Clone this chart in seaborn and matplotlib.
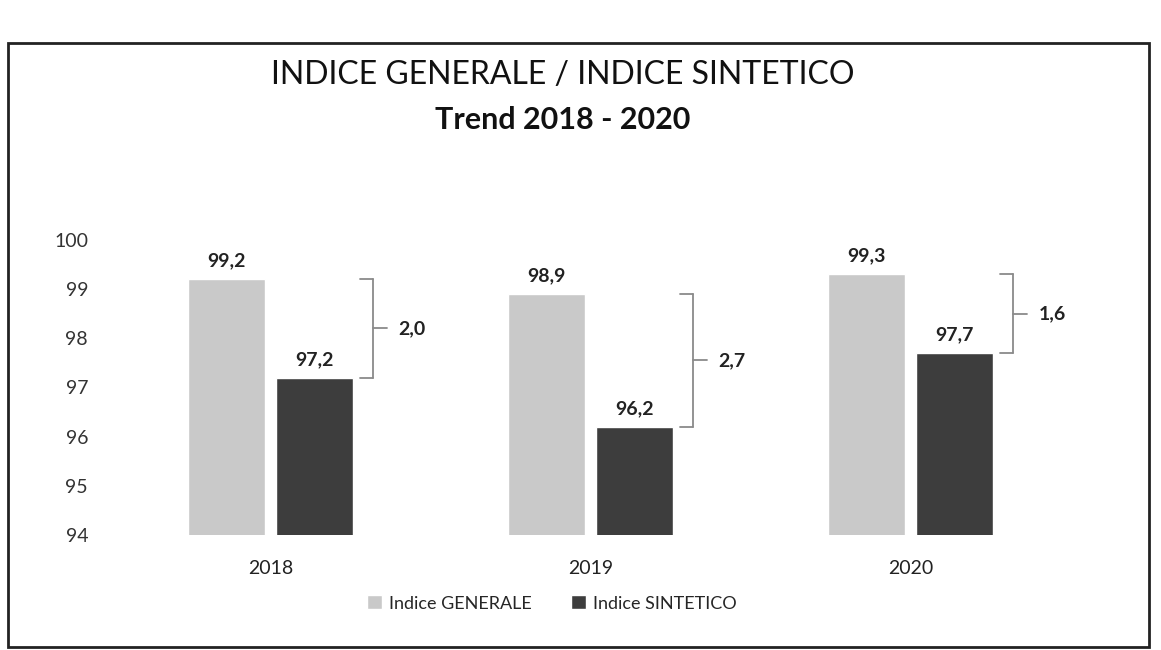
import numpy as np
import pandas as pd
import matplotlib
matplotlib.use("Agg")
import matplotlib.pyplot as plt
from matplotlib.patches import Rectangle
import seaborn as sns

# Dati
anni = ["2018", "2019", "2020"]
indice_generale = [99.2, 98.9, 99.3]
indice_sintetico = [97.2, 96.2, 97.7]
serie = ["Indice GENERALE", "Indice SINTETICO"]
colori = ["#c9c9c9", "#3d3d3d"]

sns.set_style("white")
plt.rcParams["font.family"] = ["Lato", "DejaVu Sans"]


def virgola(v):
    return f"{v:.1f}".replace(".", ",")


df = pd.DataFrame({
    "anno": anni * 2,
    "valore": indice_generale + indice_sintetico,
    "indice": [serie[0]] * len(anni) + [serie[1]] * len(anni),
})

fig = plt.figure(figsize=(11.61, 6.5), dpi=100)
ax = fig.add_axes([0.095, 0.177, 0.827, 0.454])

sns.barplot(data=df, x="anno", y="valore", hue="indice", palette=colori,
            width=0.55, gap=0.12, ax=ax, legend=True)
ax.set_ylim(94, 100)
ax.set_xlim(-0.5, 2.5)
ax.set_yticks(range(94, 101))
ax.tick_params(axis="y", labelsize=14, length=0, pad=16, colors="#333333")
ax.tick_params(axis="x", labelsize=14, length=0, pad=18, colors="#222222")
ax.set_xlabel("")
ax.set_ylabel("")
sns.despine(ax=ax, left=True, bottom=True)

# Etichette dei valori sopra le barre
for cont, vals in zip(ax.containers, [indice_generale, indice_sintetico]):
    ax.bar_label(cont, labels=[virgola(v) for v in vals], padding=7,
                 fontsize=14, fontweight="bold", color="#222222")

# Parentesi con la differenza tra i due indici
for i, (g, s) in enumerate(zip(indice_generale, indice_sintetico)):
    xb = i + 0.32
    mid = (g + s) / 2
    kw = dict(color="#8a8a8a", lw=1.3, clip_on=False)
    ax.plot([xb - 0.04, xb], [g, g], **kw)
    ax.plot([xb, xb], [s, g], **kw)
    ax.plot([xb - 0.04, xb], [s, s], **kw)
    ax.plot([xb, xb + 0.045], [mid, mid], **kw)
    ax.text(xb + 0.08, mid, virgola(g - s), ha="left", va="center",
            fontsize=14, fontweight="bold", color="#222222")

leg = ax.legend(loc="upper center", bbox_to_anchor=(0.46, -0.15), ncol=2,
                frameon=False, fontsize=13, handlelength=0.8, handleheight=0.8,
                columnspacing=2.2, handletextpad=0.4)

fig.text(0.485, 0.885, "INDICE GENERALE / INDICE SINTETICO", ha="center",
         va="center", fontsize=23, color="#111111")
fig.text(0.485, 0.815, "Trend 2018 - 2020", ha="center", va="center",
         fontsize=22, fontweight="bold", color="#111111")

# Cornice del riquadro
fig.patches.append(Rectangle((0.007, 0.004), 0.983, 0.93, transform=fig.transFigure,
                             fill=False, edgecolor="#222222", lw=2))

fig.savefig("out.png", dpi=100)
